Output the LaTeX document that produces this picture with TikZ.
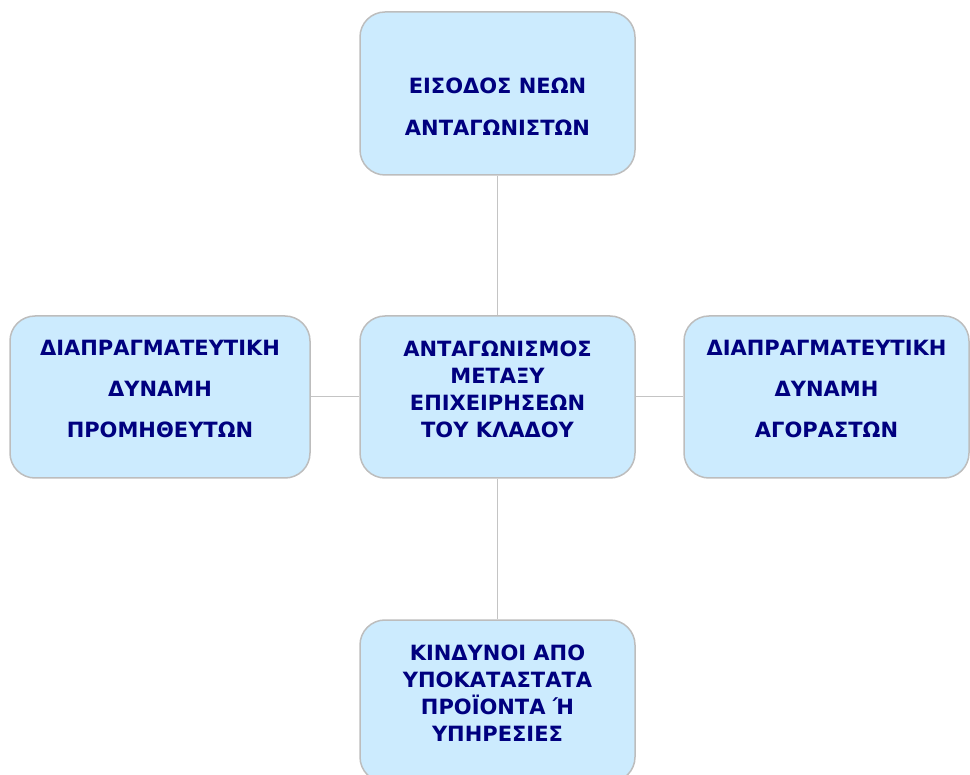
\documentclass[tikz,border=0pt]{standalone}
\usepackage{fontspec}
\setmainfont{DejaVu Sans}
\definecolor{boxblue}{HTML}{CCEBFE}
\definecolor{boxline}{HTML}{BDBDBD}
\definecolor{txtnavy}{HTML}{00007F}
\definecolor{connline}{HTML}{C4C4C4}
\tikzset{
  box/.style={draw=boxline, line width=1.5pt, fill=boxblue, rounded corners=25pt,
    minimum height=162pt, inner sep=0pt},
  txt/.style={text=txtnavy, font=\bfseries\fontsize{21pt}{27pt}\selectfont, align=center, inner sep=0pt},
  conn/.style={draw=connline, line width=1pt}
}
\begin{document}
\begin{tikzpicture}[x=1pt,y=-1pt]
\useasboundingbox (0,0) rectangle (970,775);
\node[box, minimum width=275pt, minimum height=163pt,
  label={[txt, yshift=-13.5pt]center:{ΕΙΣΟΔΟΣ ΝΕΩΝ\\[15pt]ΑΝΤΑΓΩΝΙΣΤΩΝ}}] (top) at (497.5,93.5) {};
\node[box, minimum width=300pt,
  label={[txt, yshift=8pt]center:{ΔΙΑΠΡΑΓΜΑΤΕΥΤΙΚΗ\\[14pt]ΔΥΝΑΜΗ\\[14pt]ΠΡΟΜΗΘΕΥΤΩΝ}}] (left) at (160,397) {};
\node[box, minimum width=275pt,
  label={[txt, yshift=7.5pt]center:{ΑΝΤΑΓΩΝΙΣΜΟΣ\\ΜΕΤΑΞΥ\\ΕΠΙΧΕΙΡΗΣΕΩΝ\\ΤΟΥ ΚΛΑΔΟΥ}}] (center) at (497.5,397) {};
\node[box, minimum width=285pt,
  label={[txt, yshift=8pt]center:{ΔΙΑΠΡΑΓΜΑΤΕΥΤΙΚΗ\\[14pt]ΔΥΝΑΜΗ\\[14pt]ΑΓΟΡΑΣΤΩΝ}}] (right) at (826.5,397) {};
\node[box, minimum width=275pt,
  label={[txt, yshift=7.5pt]center:{ΚΙΝΔΥΝΟΙ ΑΠΟ\\ΥΠΟΚΑΤΑΣΤΑΤΑ\\ΠΡΟΪΟΝΤΑ Ή\\ΥΠΗΡΕΣΙΕΣ}}] (bottom) at (497.5,701) {};
\draw[conn] (top) -- (center);
\draw[conn] (center) -- (bottom);
\draw[conn] (left) -- (center);
\draw[conn] (center) -- (right);
\end{tikzpicture}
\end{document}
